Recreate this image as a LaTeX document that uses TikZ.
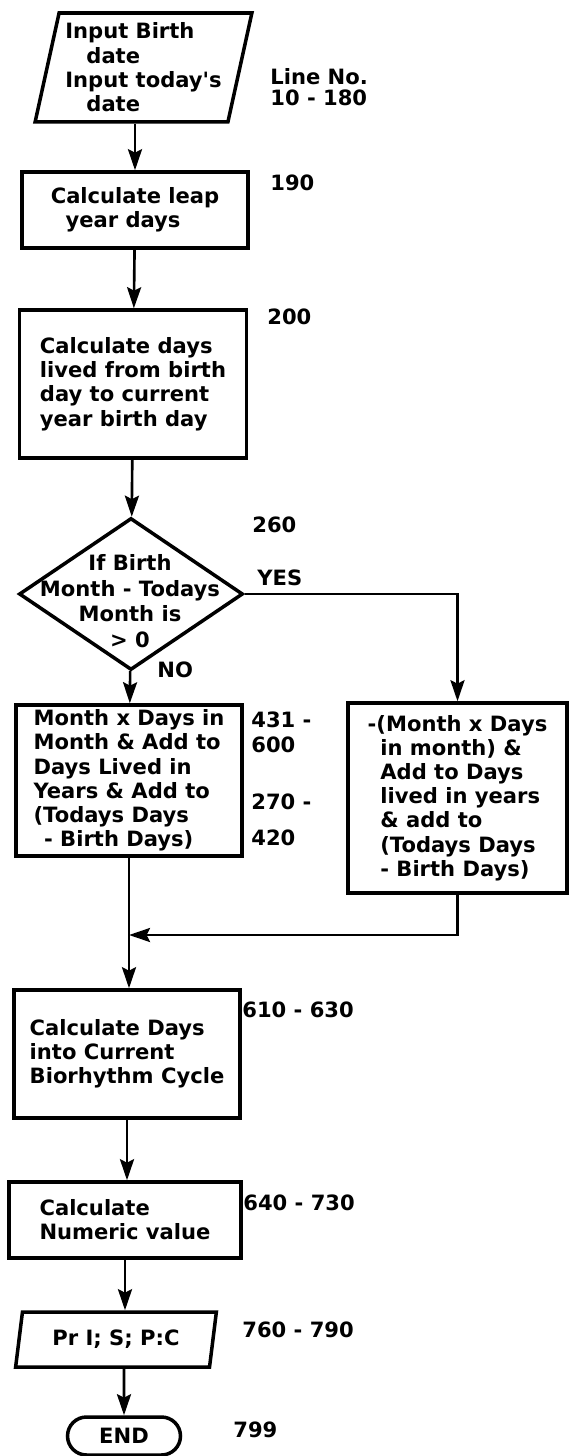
\documentclass[tikz,border=0pt]{standalone}
\usepackage{fontspec}
\setmainfont{DejaVu Sans}
\usepackage{tikz}
\usetikzlibrary{shapes.geometric}
\usetikzlibrary{shapes.misc}
\usetikzlibrary{arrows.meta}

\tikzset{
    every node/.style={font=\bfseries\fontsize{12}{13.8}\selectfont},
    box/.style={draw, line width=2pt, align=left, inner sep=0pt},
    io/.style={draw, line width=2pt, trapezium, trapezium left angle=76, trapezium right angle=104, trapezium stretches=true, align=left, inner sep=0pt},
    decision/.style={draw, line width=2pt, diamond, inner sep=0pt},
    stop/.style={draw, line width=2pt, rounded rectangle, inner sep=0pt},
    flow/.style={line width=1.5pt, -{Stealth[length=12pt, width=8pt, inset=2pt]}},
    lineno/.style={anchor=west, inner sep=0pt}
}

\begin{document}
\begin{tikzpicture}[x=0.02cm, y=-0.02cm]
        \useasboundingbox (0,0) rectangle (570,1456);
        \node [io, minimum width=4.34cm, minimum height=2.18cm] (in) at (143.5,67.5) {Input Birth\\\hspace*{1em}date\\Input today\textquotesingle s\\\hspace*{1em}date};
        \node [box, minimum width=4.52cm, minimum height=1.52cm] (leap) at (135,210) {Calculate leap\\\hspace*{0.7em}year days};
        \node [box, minimum width=4.54cm, minimum height=2.96cm] (days) at (133,384) {Calculate days\\lived from birth\\day to current\\year birth day};
        \node [decision, minimum width=4.48cm, minimum height=3.04cm] (cmp) at (131,594) {};
        \node [align=center, font=\bfseries\fontsize{12}{14.6}\selectfont] (cmptxt) at (130,601) {If Birth\\Month - Todays\\Month is\\> 0};
        \node [box, minimum width=4.52cm, minimum height=3.02cm] (month) at (129,780.5) {Month x Days in\\Month \& Add to\\Days Lived in\\Years \& Add to\\(Todays Days\\\hspace*{0.5em}- Birth Days)};
        \node [box, minimum width=4.38cm, minimum height=3.8cm] (alt) at (457.5,798) {-(Month x Days\\\hspace*{0.6em}in month) \&\\\hspace*{0.6em}Add to Days\\\hspace*{0.6em}lived in years\\\hspace*{0.6em}\& add to\\\hspace*{0.6em}(Todays Days\\\hspace*{0.6em}- Birth Days)};
        \node [box, minimum width=4.52cm, minimum height=2.56cm] (cyc) at (127,1054) {Calculate Days\\into Current\\Biorhythm Cycle};
        \node [box, minimum width=4.64cm, minimum height=1.52cm] (num) at (125,1220) {Calculate\\Numeric value};
        \node [io, minimum width=4.04cm, minimum height=1.1cm] (out) at (116,1339.5) {Pr I; S; P:C};
        \node [stop, minimum width=2.26cm, minimum height=0.76cm] (fin) at (124,1436) {END};
        \coordinate (mrg) at (month.south |- 0,935);
        \draw [flow] (leap |- in.south) -- (leap);
        \draw [flow] (leap) -- (days);
        \draw [flow] (days) -- (cmp);
        \draw [flow] (cmp) -- (month);
        \draw [flow] (cmp.east) -| (alt.north);
        \draw [flow] (month) -- (month |- cyc.north);
        \draw [flow] (alt.south) |- (mrg);
        \draw [flow] (cyc) -- (cyc |- num.north);
        \draw [flow] (num) -- (num |- out.north);
        \draw [flow] (fin |- out.south) -- (fin);
        \node [lineno] (yes) at (257,578) {YES};
        \node [lineno] (no) at (157,670) {NO};
        \foreach \x/\y/\lbl in {270/77/Line No., 270/98/10 - 180, 270/183/190, 267/317/200, 252/525/260, 251/720/431 -, 251/745/600, 251/802/270 -, 251/838/420, 242/1010/610 - 630, 243/1203/640 - 730, 242/1330/760 - 790, 233/1430/799}
            \node [lineno] (ln\y) at (\x,\y) {\lbl};
    \end{tikzpicture}
\end{document}
